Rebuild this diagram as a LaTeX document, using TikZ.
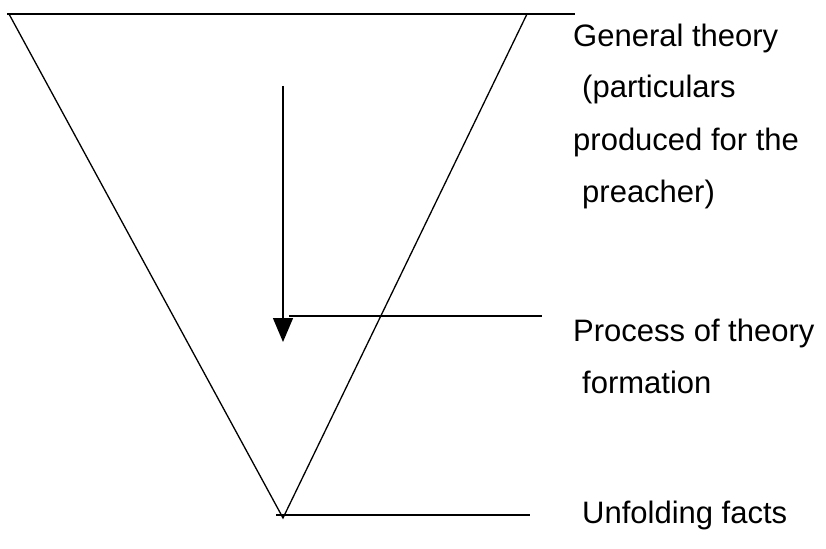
\documentclass[tikz,border=0pt]{standalone}
\usepackage{fontspec}
\setmainfont{Liberation Sans}
\usetikzlibrary{arrows.meta}
\begin{document}
\begin{tikzpicture}[x=1pt,y=-1pt,
  ln/.style={line width=1.3pt,black},
  lbl/.style={anchor=base west,inner sep=0pt,font=\fontsize{31}{31}\selectfont}]
\useasboundingbox (0,0) rectangle (826,548);
% triangle
\coordinate (L) at (9,14);
\coordinate (R) at (527,14);
\coordinate (A) at (283,518);
\draw[ln,line join=miter] (L) -- (R) -- (A) -- cycle;
% top line
\coordinate (T0) at (7,14);
\coordinate (T1) at (575,14);
\draw[ln] (T0) -- (T1);
% arrow
\coordinate (S0) at (283,86);
\coordinate (S1) at (283,342);
\draw[ln,-{Triangle[width=20pt,length=24pt]}] (S0) -- (S1);
% process line
\coordinate (P0) at (289,316);
\coordinate (P1) at (542,316);
\draw[ln] (P0) -- (P1);
% bottom line
\coordinate (B0) at (276,515);
\coordinate (B1) at (530,515);
\draw[ln] (B0) -- (B1);
% labels
\node[lbl] (g1) at (573,47) {General theory};
\node[lbl] (g2) at (582,98) {(particulars};
\node[lbl] (g3) at (573,150) {produced for the};
\node[lbl] (g4) at (582,202) {preacher)};
\node[lbl] (p1) at (573,341) {Process of theory};
\node[lbl] (p2) at (582,393) {formation};
\node[lbl] (u1) at (582,523) {Unfolding facts};
\end{tikzpicture}
\end{document}
